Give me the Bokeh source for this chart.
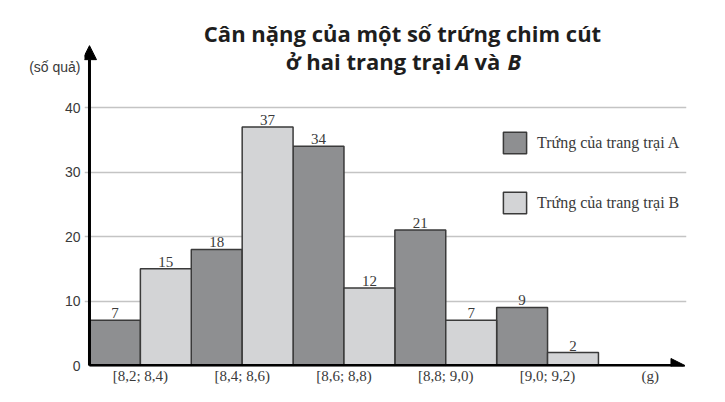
from bokeh.plotting import figure
from bokeh.models import (ColumnDataSource, FixedTicker, Range1d, Arrow, NormalHead,
                          Label, Legend, LegendItem)
from bokeh.embed import file_html
from bokeh.resources import INLINE
from bokeh.core.properties import value

# ---- data ----
classes = ["[8,2; 8,4)", "[8,4; 8,6)", "[8,6; 8,8)", "[8,8; 9,0)", "[9,0; 9,2)"]
farm_a = [7, 18, 34, 21, 9]
farm_b = [15, 37, 12, 7, 2]
y_ticks = [0, 10, 20, 30, 40]
series_names = ["Trứng của trang trại A", "Trứng của trang trại B"]
title_line1 = "Cân nặng của một số trứng chim cút"
y_unit = "(số quả)"
x_unit = "(g)"

COL_A = "#8e8f91"
COL_B = "#d3d4d6"
EDGE = "#3a3a3a"
SERIF = "Liberation Serif"
SANS = "Liberation Sans"

n = len(classes)
xa = [2 * i + 0.5 for i in range(n)]
xb = [2 * i + 1.5 for i in range(n)]
xc = [2 * i + 1.0 for i in range(n)]
x_unit_pos = 2 * n + 1.02
y_unit_pos = 46.36

src_a = ColumnDataSource(dict(x=xa, top=farm_a, lab=[str(v) for v in farm_a]))
src_b = ColumnDataSource(dict(x=xb, top=farm_b, lab=[str(v) for v in farm_b]))

p = figure(width=709, height=386, output_backend="svg", toolbar_location=None,
           x_range=Range1d(-0.098, 11.73), y_range=Range1d(-0.155, 56.6),
           min_border_left=84, min_border_right=23, min_border_top=0,
           min_border_bottom=20)
p.outline_line_color = None
p.background_fill_color = "white"

# grid
p.xgrid.visible = False
p.ygrid.ticker = FixedTicker(ticks=y_ticks[1:])
p.ygrid.grid_line_color = "#c4c4c4"
p.ygrid.grid_line_width = 1.5

# bars
ra = p.vbar(x="x", top="top", width=1.0, source=src_a, fill_color=COL_A,
            line_color=EDGE, line_width=1.5)
rb = p.vbar(x="x", top="top", width=1.0, source=src_b, fill_color=COL_B,
            line_color=EDGE, line_width=1.5)

# value labels
for s in (src_a, src_b):
    p.text(x="x", y="top", text="lab", source=s, text_align="center",
           text_baseline="bottom", y_offset=-2, text_font=value(SERIF),
           text_font_size="15px", text_color="#3a3a3a")

# axes
ya = p.yaxis[0]
ya.ticker = FixedTicker(ticks=y_ticks + [y_unit_pos])
yover = {t: str(t) for t in y_ticks}
yover[y_unit_pos] = y_unit
ya.major_label_overrides = yover
ya.axis_line_color = None
ya.major_tick_line_color = None
ya.minor_tick_line_color = None
ya.major_tick_out = 0
ya.major_tick_in = 0
ya.minor_tick_out = 0
ya.minor_tick_in = 0
ya.major_label_standoff = 4
ya.major_label_text_font = SANS
ya.major_label_text_font_size = "14px"
ya.major_label_text_color = "#3a3a3a"

xax = p.xaxis[0]
xax.ticker = FixedTicker(ticks=xc + [x_unit_pos])
overrides = {c: lab for c, lab in zip(xc, classes)}
overrides[x_unit_pos] = x_unit
xax.major_label_overrides = overrides
xax.axis_line_color = None
xax.major_tick_line_color = None
xax.minor_tick_line_color = None
xax.major_tick_out = 0
xax.major_tick_in = 0
xax.minor_tick_out = 0
xax.minor_tick_in = 0
xax.major_label_standoff = 1
xax.major_label_text_font = SERIF
xax.major_label_text_font_size = "15px"
xax.major_label_text_color = "#3a3a3a"

# axis arrows
p.add_layout(Arrow(end=NormalHead(size=14, fill_color="black", line_color="black"),
                   x_start=0, y_start=0, x_end=11.70, y_end=0,
                   line_width=3, line_color="black"))
p.add_layout(Arrow(end=NormalHead(size=14, fill_color="black", line_color="black"),
                   x_start=0, y_start=0, x_end=0, y_end=49.6,
                   line_width=3, line_color="black"))

# title
p.add_layout(Label(x=318, y=334, x_units="screen", y_units="screen",
                   text=title_line1, text_align="center", text_baseline="middle",
                   text_font="Open Sans", text_font_style="bold",
                   text_font_size="22px", text_color="#1e1e1e"))
parts = [("ở hai trang trại", 367, "right", "bold"),
         ("A", 371, "left", "bold italic"),
         ("và", 390, "left", "bold"),
         ("B", 423, "left", "bold italic")]
for t, sx, al, st in parts:
    p.add_layout(Label(x=sx, y=306, x_units="screen", y_units="screen",
                       text=t, text_align=al, text_baseline="middle",
                       text_font="Open Sans", text_font_style=st,
                       text_font_size="22px", text_color="#1e1e1e"))

# legend
legend = Legend(items=[LegendItem(label=series_names[0], renderers=[ra]),
                       LegendItem(label=series_names[1], renderers=[rb])],
                location=(416, 150), orientation="vertical",
                glyph_width=29, glyph_height=27, label_height=27,
                spacing=33, label_standoff=8, padding=0, margin=0,
                border_line_color=None, background_fill_alpha=0,
                label_text_font=SERIF, label_text_font_size="16px",
                label_text_color="#3a3a3a")
p.add_layout(legend)

open("out.html", "w").write(file_html(p, INLINE))
